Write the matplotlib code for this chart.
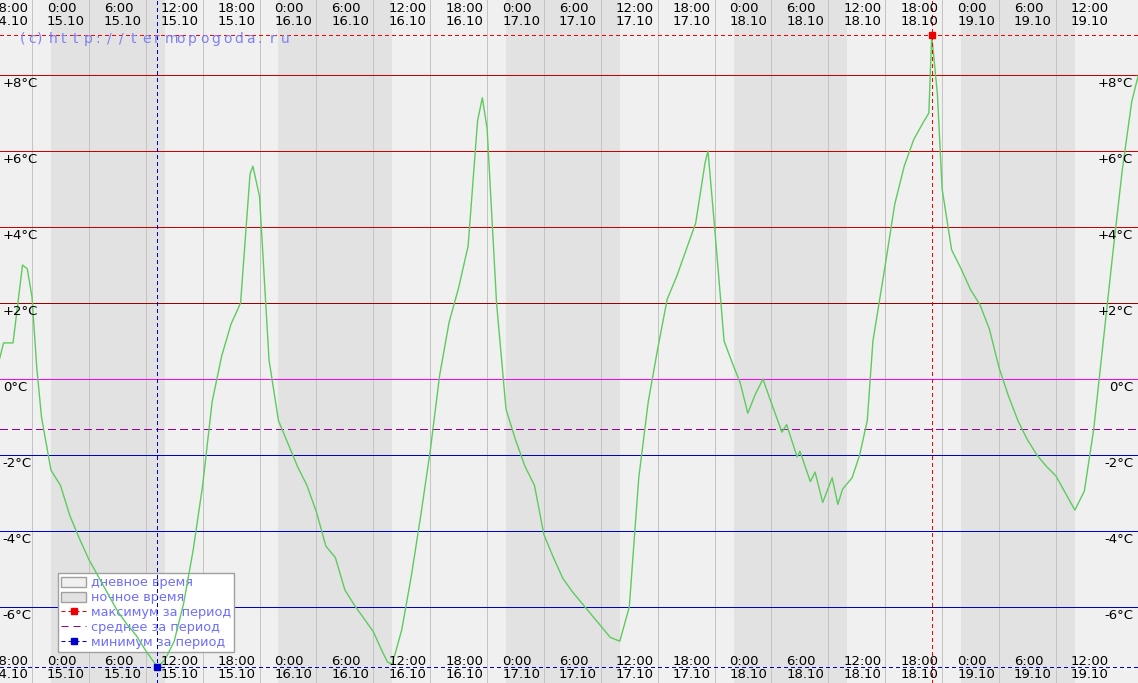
import matplotlib
matplotlib.use('Agg')
import matplotlib.pyplot as plt
import matplotlib.transforms as mtransforms
from matplotlib.patches import Patch
from matplotlib.lines import Line2D

# hours counted from 0:00 15.10
hours = [-3.4, -3, -2, -1, -0.5, 0, 0.5, 1, 2, 3, 4, 5, 6, 7, 8, 9, 10, 11, 12, 13, 13.2,
         14, 15, 16, 17, 18, 19, 20, 21, 22, 23, 23.3, 24, 25, 26, 27, 28, 29, 30, 31,
         32, 33, 34, 35, 36, 37, 37.5, 38, 39, 40, 41, 42, 43, 44, 45, 46, 47, 47.5, 48,
         49, 50, 51, 52, 53, 54, 55, 56, 57, 58, 59, 60, 61, 62, 63, 64, 65, 66, 67, 68,
         69, 70, 71, 71.3, 72, 73, 73.9, 74.7, 75.5, 76.3, 77.1, 77.8, 79.1, 79.6, 80.7,
         81.0, 82.1, 82.6, 83.4, 84.4, 85.0, 85.5, 86.5, 87.3, 88.1, 88.7,
         90, 91, 92, 93, 94, 94.6, 94.9, 95.5, 96, 97, 98, 99, 100, 101, 102,
         103, 104, 105, 106, 107, 108, 109, 110, 111, 112, 113, 114, 115, 116, 116.7]
temps = [0.55, 0.95, 0.95, 3.0, 2.9, 2.16, 0.3, -1.0, -2.4, -2.8, -3.6, -4.2, -4.75, -5.2,
         -5.65, -6.1, -6.45, -6.75, -7.15, -7.5, -7.58,
         -7.4, -6.9, -5.9, -4.5, -2.8, -0.6, 0.6, 1.45, 2.0, 5.4, 5.6, 4.8, 0.5, -1.1, -1.7,
         -2.3, -2.8, -3.5, -4.4, -4.7, -5.55, -5.95, -6.3, -6.65, -7.2, -7.45, -7.5, -6.6,
         -5.2, -3.6, -1.9, 0.1, 1.5, 2.4, 3.5, 6.8, 7.4, 6.6,
         2.0, -0.8, -1.6, -2.3, -2.8, -4.1, -4.7, -5.25, -5.6, -5.9, -6.2, -6.5, -6.8, -6.9,
         -6.0, -2.6, -0.6, 0.8, 2.1, 2.7,
         3.4, 4.1, 5.7, 6.0, 4.0, 1.0, 0.4, -0.1, -0.9, -0.4, 0.0, -0.5, -1.4, -1.2, -2.05,
         -1.9, -2.7, -2.45, -3.25, -2.6, -3.3, -2.9, -2.6, -2.0, -1.1, 1.0,
         3.0, 4.6, 5.6, 6.3, 6.75, 7.0, 9.05, 7.5, 5.0, 3.4, 2.9, 2.35, 1.95, 1.3, 0.3,
         -0.45, -1.1, -1.6, -2.0, -2.3, -2.55, -3.0, -3.45, -2.95, -1.3, 1.0, 3.3, 5.5, 7.3, 8.0]

t_max, v_max = 94.9, 9.05
t_min, v_min = 13.2, -7.58
v_mean = -1.32

night_starts = [2, 26, 50, 74, 98]
tick_hours = list(range(-6, 114, 6))
day_names = ['14.10', '15.10', '16.10', '17.10', '18.10', '19.10']
temp_levels = [8, 6, 4, 2, 0, -2, -4, -6]

PX = 0.72  # one pixel in points at 100 dpi

fig = plt.figure(figsize=(11.38, 6.83), dpi=100)
ax = fig.add_axes([0, 0, 1, 1])
ax.set_xlim(-3.376, 116.66)
ax.set_ylim(-8.0, 9.974)
ax.set_axis_off()
ax.add_patch(plt.Rectangle((0, 0), 1, 1, transform=ax.transAxes, color='#f0f0f0', zorder=0))

# night bands and 6-hour grid
for s in night_starts:
    ax.axvspan(s, s + 12, color='#e2e2e2', lw=0, zorder=0.5)
for h in tick_hours:
    ax.axvline(h, color='#c4c4c4', lw=PX, zorder=1, antialiased=False)

for lv in temp_levels:
    if lv > 0:
        c = '#990000' if lv == 2 else '#cc0000'
    elif lv == 0:
        c = '#ff00ff'
    else:
        c = '#0000cc'
    ax.axhline(lv, color=c, lw=PX, zorder=1.5, antialiased=False)
    lab = ('+%d°C' % lv) if lv > 0 else ('%d°C' % lv)
    tr = mtransforms.offset_copy(ax.transData, fig=fig, x=0, y=-2, units='dots')
    ax.text(-3.376 + 0.3, lv, lab, fontsize=9.5, va='top', ha='left',
            transform=tr, zorder=5)
    ax.text(116.66 - 0.5, lv, lab, fontsize=9.5, va='top', ha='right',
            transform=tr, zorder=5)

ax.axhline(v_mean, color='#990099', lw=PX, ls=(0, (8, 5)), zorder=2, antialiased=False)

ax.plot(hours, temps, color='#5ccc5c', lw=1, zorder=3)

dash = (0, (4, 3))
ax.axhline(v_max, color='#ff0000', lw=PX, ls=dash, zorder=3.5, antialiased=False)
ax.axvline(t_max, color='#ff0000', lw=PX, ls=dash, zorder=3.5, antialiased=False)
ax.plot([t_max], [v_max], 's', color='#ee0000', ms=4.5, zorder=4)
ax.axhline(v_min, color='#0000cc', lw=PX, ls=dash, zorder=3.5, antialiased=False)
ax.axvline(t_min, color='#0000cc', lw=PX, ls=dash, zorder=3.5, antialiased=False)
ax.plot([t_min], [v_min], 's', color='#0000cc', ms=4.5, zorder=4)

# time labels top and bottom
blend = mtransforms.blended_transform_factory(ax.transData, ax.transAxes)
lab_tr = mtransforms.offset_copy(blend, fig=fig, x=15, y=0, units='dots')
for h in tick_hours:
    day = day_names[(h + 24) // 24]
    txt = '%d:00\n%s' % (h % 24, day)
    ax.text(h, 1 - 2 / 683, txt, fontsize=9.5, va='top', ha='left', linespacing=1.0,
            transform=lab_tr, zorder=5)
    ax.text(h, 2 / 683, txt, fontsize=9.5, va='bottom', ha='left', linespacing=1.0,
            transform=lab_tr, zorder=5)

# watermark, letter-spaced
for i, ch in enumerate('(c)'):
    fig.text((20 + 8.5 * i) / 1138, 1 - 39 / 683, ch, fontsize=10, color='#8080f0',
             va='center', ha='left')
for i, ch in enumerate('http://termopogoda.ru'):
    fig.text((49 + 11.6 * i) / 1138, 1 - 39 / 683, ch, fontsize=10, color='#8080f0',
             va='center', ha='left')

handles = [
    Patch(facecolor='#f0f0f0', edgecolor='#a0a0a0', label='дневное время'),
    Patch(facecolor='#e2e2e2', edgecolor='#a0a0a0', label='ночное время'),
    Line2D([], [], color='#ee0000', lw=PX, ls=dash, marker='s', ms=4.5, label='максимум за период'),
    Line2D([], [], color='#990099', lw=PX, ls=(0, (7, 5)), label='среднее за период'),
    Line2D([], [], color='#0000cc', lw=PX, ls=dash, marker='s', ms=4.5, label='минимум за период'),
]
leg = ax.legend(handles=handles, loc='upper left', bbox_to_anchor=(58 / 1138, 1 - 573 / 683),
                bbox_transform=fig.transFigure, borderaxespad=0, fontsize=9.3,
                labelcolor='#6e6eff', fancybox=False, framealpha=1, edgecolor='#a0a0a0',
                handlelength=1.9, handleheight=0.8, handletextpad=0.4, labelspacing=0.15,
                borderpad=0.25)
leg.get_frame().set_linewidth(1)
leg.set_zorder(2.5)

fig.savefig('out.png', dpi=100)
